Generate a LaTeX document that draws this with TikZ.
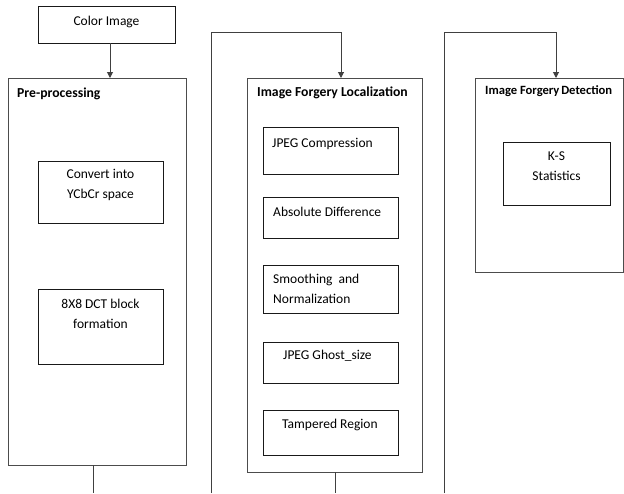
\documentclass[tikz,border=0pt]{standalone}
\usepackage{fontspec}
\setmainfont{Carlito}
\usetikzlibrary{arrows.meta}
\begin{document}
\begin{tikzpicture}[x=1pt,y=-1pt,
  inbox/.style={draw=black!90, line width=0.9pt, rectangle, inner sep=0pt, outer sep=0pt, anchor=north west},
  outbox/.style={draw=black!70, line width=1pt, rectangle, inner sep=0pt, outer sep=0pt, anchor=north west},
  txt/.style={inner sep=0pt, font=\fontsize{13.5}{16}\selectfont, anchor=base},
  ltxt/.style={txt, anchor=base west},
  ttl/.style={inner sep=0pt, font=\bfseries\fontsize{13.7}{16}\selectfont, anchor=base west},
  conn/.style={draw=black!75, line width=1pt},
  arr/.style={conn, -{Triangle[length=6pt,width=6pt]}}]
\useasboundingbox (0,0) rectangle (624,493);

% top input
\node[inbox, minimum width=137pt, minimum height=37pt] (color) at (38,6) {};
\node[txt] (colort) at (106.5,25) {Color Image};

% Pre-processing
\node[outbox, minimum width=178pt, minimum height=387pt] (pre) at (8,78) {};
\node[ttl] (pret) at (17,97) {Pre-processing};
\node[inbox, minimum width=125pt, minimum height=62pt] (conv) at (38,161) {};
\node[txt] (conv1) at (100.5,178) {Convert into};
\node[txt] (conv2) at (100.5,198) {YCbCr space};
\node[inbox, minimum width=125pt, minimum height=75pt] (dct) at (38,289) {};
\node[txt] (dct1) at (100.5,308) {8X8 DCT block};
\node[txt] (dct2) at (100.5,328) {formation};

% Image Forgery Localization
\node[outbox, minimum width=175pt, minimum height=394pt] (ifl) at (247,78) {};
\node[ttl] (iflt) at (257,96) {Image Forgery Localization};
\node[inbox, minimum width=135pt, minimum height=47pt] (jpeg) at (263,127) {};
\node[ltxt] (jpegt) at (272,147) {JPEG Compression};
\node[inbox, minimum width=135pt, minimum height=41pt] (absd) at (263,197) {};
\node[ltxt] (absdt) at (273,216) {Absolute Difference};
\node[inbox, minimum width=135pt, minimum height=48pt] (smooth) at (263,265) {};
\node[ltxt] (smooth1) at (273,283) {Smoothing\ \ and};
\node[ltxt] (smooth2) at (273,303) {Normalization};
\node[inbox, minimum width=135pt, minimum height=41pt] (ghost) at (263,342) {};
\node[ltxt] (ghostt) at (283,359) {JPEG Ghost\_size};
\node[inbox, minimum width=135pt, minimum height=45pt] (tamp) at (263,410) {};
\node[ltxt] (tampt) at (282,428) {Tampered Region};

% Image Forgery Detection
\node[outbox, minimum width=148pt, minimum height=194pt] (ifd) at (475,78) {};
\node[ttl, font=\bfseries\fontsize{12.6}{15}\selectfont] (ifdt) at (485,94) {Image Forgery\hspace{-1pt} Detection};
\node[inbox, minimum width=107pt, minimum height=63pt] (ks) at (503,142) {};
\node[txt] (ks1) at (556.5,160) {K-S};
\node[txt] (ks2) at (556.5,180) {Statistics};

% connectors
\coordinate (pb) at (93,493);
\coordinate (f2) at (211,493);
\coordinate (t2) at (211,32);
\coordinate (a2) at (341,32);
\coordinate (lb) at (335,493);
\coordinate (f3) at (444,493);
\coordinate (t3) at (444,32);
\coordinate (a3) at (556,32);

\draw[arr] (color.south -| 110,0) -- (pre.north -| 110,0);
\draw[conn] (pb |- pre.south) -- (pb);
\draw[arr] (f2) -- (t2) -- (a2) -- (a2 |- ifl.north);
\draw[conn] (lb |- ifl.south) -- (lb);
\draw[arr] (f3) -- (t3) -- (a3) -- (a3 |- ifd.north);
\end{tikzpicture}
\end{document}
